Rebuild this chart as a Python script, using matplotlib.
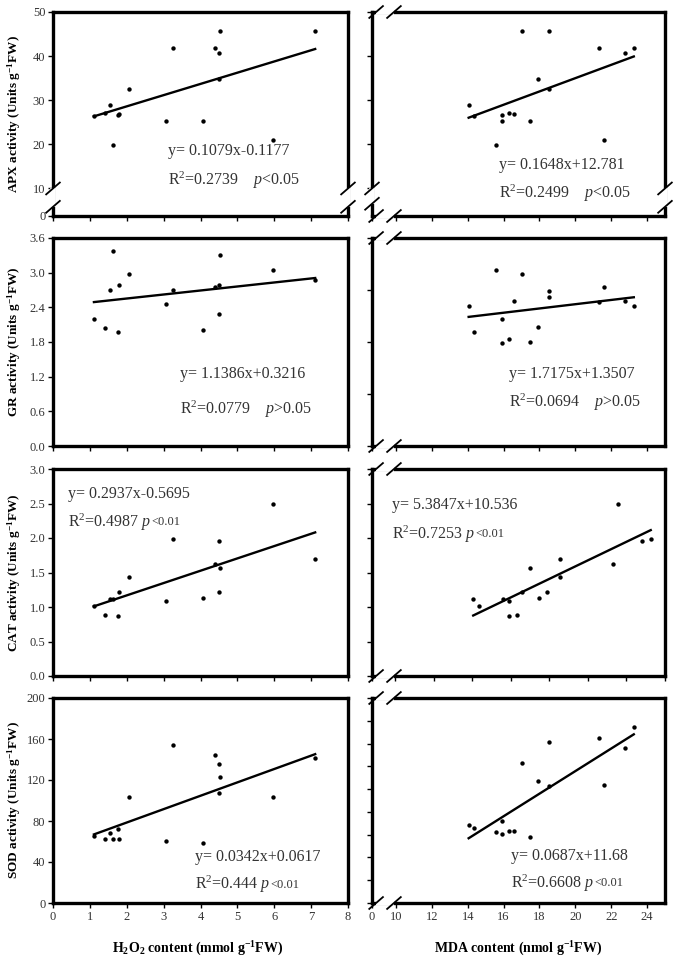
import numpy as np
import matplotlib
matplotlib.use("Agg")
import matplotlib.pyplot as plt

plt.rcParams['font.family'] = ['Liberation Serif', 'DejaVu Serif']
plt.rcParams['mathtext.fontset'] = 'custom'
plt.rcParams['mathtext.rm'] = 'Liberation Serif'
plt.rcParams['mathtext.it'] = 'Liberation Serif:italic'
plt.rcParams['mathtext.bf'] = 'Liberation Serif:bold'

# ---------------- data (one entry per sample) ----------------
h2o2 = [1.11, 1.41, 1.55, 1.63, 1.76, 1.79, 2.06, 3.06, 3.26, 4.06, 4.40, 4.50, 4.51, 4.53, 5.97, 7.11]
mda = [14.33, 16.32, 14.05, 15.59, 15.91, 16.56, 18.55, 15.91, 23.26, 17.45, 21.30, 17.90, 22.79, 17.02, 21.58, 18.55]
apx = [26.5, 27.1, 28.8, 19.8, 26.6, 26.8, 32.5, 25.2, 41.9, 25.2, 41.8, 34.9, 40.8, 45.6, 20.9, 45.7]
gr = [2.20, 2.05, 2.70, 3.38, 1.98, 2.78, 2.98, 2.45, 2.70, 2.00, 2.76, 2.28, 2.79, 3.31, 3.05, 2.87]
cat = [1.01, 0.88, 1.11, 1.12, 0.87, 1.22, 1.43, 1.09, 1.99, 1.13, 1.63, 1.22, 1.955, 1.56, 2.49, 1.69]
sod = [65.8, 62.9, 68.5, 62.3, 72.0, 62.8, 103.0, 60.9, 154.3, 58.2, 144.6, 107.5, 135.9, 123.0, 103.8, 141.2]

enzymes = [apx, gr, cat, sod]
ylabels = [r'APX activity (Units g$^{\mathbf{-1}}$FW)',
           r'GR activity (Units g$^{\mathbf{-1}}$FW)',
           r'CAT activity (Units g$^{\mathbf{-1}}$FW)',
           r'SOD activity (Units g$^{\mathbf{-1}}$FW)']

eq_h2o2 = ['y= 0.1079x-0.1177', 'y= 1.1386x+0.3216', 'y= 0.2937x-0.5695', 'y= 0.0342x+0.0617']
r2_h2o2 = ['0.2739', '0.0779', '0.4987', '0.444']
p_h2o2 = ['<0.05', '>0.05', '<0.01', '<0.01']
eq_mda = ['y= 0.1648x+12.781', 'y= 1.7175x+1.3507', 'y= 5.3847x+10.536', 'y= 0.0687x+11.68']
r2_mda = ['0.2499', '0.0694', '0.7253', '0.6608']
p_mda = ['<0.05', '>0.05', '<0.01', '<0.01']

# axis scales
ylim_left = [(3.7, 50), (0, 3.6), (0, 3.0), (0, 200)]
yticks_left = [[3.7, 10, 20, 30, 40, 50], [0, 0.6, 1.2, 1.8, 2.4, 3.0, 3.6],
               [0, 0.5, 1.0, 1.5, 2.0, 2.5, 3.0], [0, 40, 80, 120, 160, 200]]
ytlabels_left = [['0', '10', '20', '30', '40', '50'],
                 ['0.0', '0.6', '1.2', '1.8', '2.4', '3.0', '3.6'],
                 ['0.0', '0.5', '1.0', '1.5', '2.0', '2.5', '3.0'],
                 ['0', '40', '80', '120', '160', '200']]
ylim_right = [(3.7, 50), (0, 4.0), (0, 3.0), (0, 180)]
yticks_right = [[10, 20, 30, 40, 50], [0, 1, 2, 3, 4],
                [0, 0.5, 1.0, 1.5, 2.0, 2.5, 3.0], list(range(0, 181, 20))]
xlim_left = (0, 8)
xticks_left = list(range(0, 9))
xlim_right = [(8.66, 25), (8.66, 25), (8.8, 24), (8.66, 25)]
xticks_right_major = [10, 12, 14, 16, 18, 20, 22, 24]
xtlabels_right = ['0', '10', '12', '14', '16', '18', '20', '22', '24']

# text placements (axes fraction)
eqpos_left = [(0.39, 0.32, 0.175), (0.43, 0.346, 0.178), (0.05, 0.879, 0.744), (0.48, 0.224, 0.09)]
eqpos_right = [(0.433, 0.25, 0.113), (0.468, 0.346, 0.21), (0.068, 0.826, 0.686), (0.474, 0.229, 0.098)]

# ---------------- layout ----------------
W, H = 675, 958
fig = plt.figure(figsize=(W / 100, H / 100), dpi=100)
col_x = [(53, 348), (372, 665)]
row_y = [(12, 216), (238, 446), (469, 676), (698, 903)]
TXT = '#333333'


def add_ax(c, r):
    x0, x1 = col_x[c]
    y0, y1 = row_y[r]
    return fig.add_axes([x0 / W, 1 - y1 / H, (x1 - x0) / W, (y1 - y0) / H])


def slash(ax, xf, yf, c, r):
    w = col_x[c][1] - col_x[c][0]
    h = row_y[r][1] - row_y[r][0]
    dx, dy = 7.5 / w, 6.5 / h
    ax.plot([xf - dx, xf + dx], [yf - dy, yf + dy], color='black', lw=1.3,
            transform=ax.transAxes, clip_on=False, zorder=6, solid_capstyle='butt')


def gap_v(ax, xf, y1, y2, c, r):
    ax.plot([xf, xf], [y1, y2], color='white', lw=4, transform=ax.transAxes,
            clip_on=False, zorder=5, solid_capstyle='butt')
    slash(ax, xf, y1, c, r)
    slash(ax, xf, y2, c, r)


def gap_h(ax, yf, x1, x2, c, r):
    ax.plot([x1, x2], [yf, yf], color='white', lw=4, transform=ax.transAxes,
            clip_on=False, zorder=5, solid_capstyle='butt')
    slash(ax, x1, yf, c, r)
    slash(ax, x2, yf, c, r)


def style(ax):
    for s in ax.spines.values():
        s.set_linewidth(2.4)
        s.set_color('black')
    ax.tick_params(direction='out', length=3.5, width=1.0, labelsize=9,
                   labelcolor=TXT, top=False, right=False, pad=2)


def annotate(ax, pos, eq, r2, p, small):
    x, ye, yr = pos
    ax.text(x, ye, eq, transform=ax.transAxes, fontsize=11.5, color=TXT, va='center', ha='left')
    if not small:
        ax.text(x, yr, r'R$^2$=' + r2 + r'    $p$' + p, transform=ax.transAxes,
                fontsize=11.5, color=TXT, va='center', ha='left')
    else:
        t = ax.text(x, yr, r'R$^2$=' + r2 + r' $p$', transform=ax.transAxes,
                    fontsize=11.5, color=TXT, va='center', ha='left')
        ax.annotate(p, xy=(1, 0.2), xycoords=t, fontsize=9, color=TXT,
                    va='bottom', ha='left')


for r in range(4):
    y = np.array(enzymes[r])
    small = r >= 2
    # ---- left: vs H2O2 ----
    ax = add_ax(0, r)
    style(ax)
    x = np.array(h2o2)
    ax.scatter(x, y, s=10, color='black', zorder=4, linewidths=0, clip_on=False)
    m, b = np.polyfit(x, y, 1)
    xs = np.array([x.min(), x.max()])
    ax.plot(xs, m * xs + b, color='black', lw=1.7, zorder=3)
    ax.set_xlim(*xlim_left)
    ax.set_ylim(*ylim_left[r])
    ax.set_xticks(xticks_left)
    ax.set_yticks(yticks_left[r])
    ax.set_yticklabels(ytlabels_left[r])
    if r < 3:
        ax.set_xticklabels([])
    else:
        ax.set_xlabel(r'H$_\mathbf{2}$O$_\mathbf{2}$ content (mmol g$^{\mathbf{-1}}$FW)',
                      fontsize=10, fontweight='bold')
        ax.xaxis.set_label_coords(0.49, -0.18)
    ax.set_ylabel(ylabels[r], fontsize=9.5, fontweight='bold')
    ax.yaxis.set_label_coords(-0.102, 0.5)
    annotate(ax, eqpos_left[r], eq_h2o2[r], r2_h2o2[r], p_h2o2[r], small)
    if r == 0:
        gap_v(ax, 0, 0.045, 0.135, 0, r)
        gap_v(ax, 1, 0.045, 0.135, 0, r)

    # ---- right: vs MDA ----
    ax = add_ax(1, r)
    style(ax)
    x = np.array(mda)
    ax.scatter(x, y, s=10, color='black', zorder=4, linewidths=0, clip_on=False)
    m, b = np.polyfit(x, y, 1)
    xs = np.array([x.min(), x.max()])
    ax.plot(xs, m * xs + b, color='black', lw=1.7, zorder=3)
    ax.set_xlim(*xlim_right[r])
    ax.set_ylim(*ylim_right[r])
    ax.set_xticks([xlim_right[r][0]] + xticks_right_major)
    ax.set_yticks(yticks_right[r])
    ax.set_yticklabels([])
    if r < 3:
        ax.set_xticklabels([])
    else:
        ax.set_xticklabels(xtlabels_right)
        ax.set_xlabel(r'MDA content (nmol g$^{\mathbf{-1}}$FW)', fontsize=10, fontweight='bold')
        ax.xaxis.set_label_coords(0.50, -0.18)
    annotate(ax, eqpos_right[r], eq_mda[r], r2_mda[r], p_mda[r], small)
    gap_h(ax, 1, 0.014, 0.075, 1, r)
    gap_h(ax, 0, 0.014, 0.075, 1, r)
    if r == 0:
        gap_v(ax, 0, 0.06, 0.135, 1, r)
        gap_v(ax, 1, 0.045, 0.135, 1, r)

fig.savefig('out.png', dpi=100)
